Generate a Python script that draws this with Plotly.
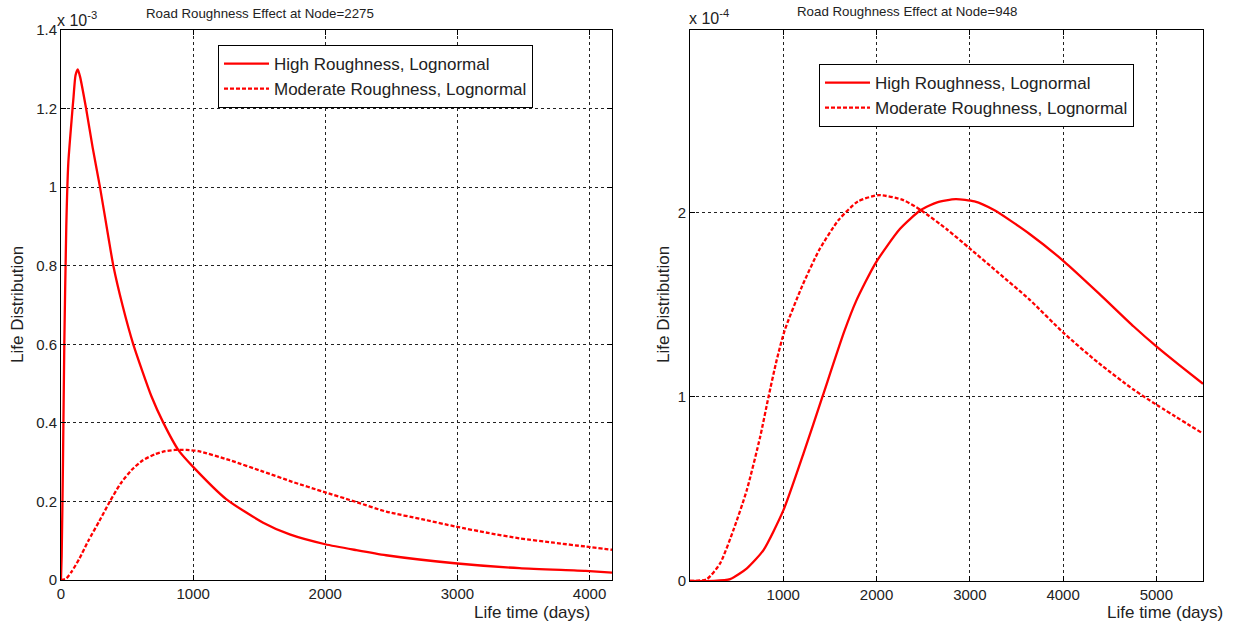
import plotly.graph_objects as go

# ---------------- data (left: node 2275, values in units of 1e-3) ----------------
left_high_x = [0, 5, 15, 25, 40, 55, 80, 95, 110, 127, 145, 190, 240, 295, 360, 396, 465,
               547, 685, 775, 890, 1000, 1250, 1530, 1731, 2000, 2235, 2460, 3000,
               3470, 3970, 4170]
left_high_y = [0, 0.06, 0.30, 0.60, 0.90, 1.06, 1.17, 1.23, 1.285, 1.30, 1.28, 1.20,
               1.10, 1.00, 0.87, 0.80, 0.70, 0.60, 0.467, 0.40, 0.33, 0.288, 0.206,
               0.146, 0.116, 0.091, 0.076, 0.063, 0.042, 0.030, 0.023, 0.019]

left_mod_x = [0, 40, 80, 140, 207, 290, 370, 450, 534, 620, 711, 790, 862, 950, 1040,
              1277, 1529, 1750, 1983, 2230, 2462, 2730, 2986, 3230, 3469, 3730, 3973, 4170]
left_mod_y = [0, 0.004, 0.021, 0.055, 0.10, 0.15, 0.20, 0.245, 0.28, 0.305, 0.32, 0.328,
              0.331, 0.331, 0.328, 0.305, 0.276, 0.25, 0.225, 0.199, 0.174, 0.155, 0.136,
              0.12, 0.106, 0.095, 0.085, 0.077]

# ---------------- data (right: node 948, values in units of 1e-4) ----------------
right_high_x = [0, 250, 430, 610, 788, 1003, 1218, 1420, 1651, 1782, 1988, 2250, 2474,
                2650, 2848, 3050, 3260, 3634, 4008, 4383, 4757, 5000, 5250, 5500]
right_high_y = [0, 0, 0.01, 0.069, 0.168, 0.386, 0.694, 1.0, 1.35, 1.52, 1.724, 1.91,
                2.013, 2.055, 2.072, 2.06, 2.013, 1.886, 1.735, 1.561, 1.381, 1.273,
                1.17, 1.07]

right_mod_x = [0, 180, 323, 466, 610, 753, 842, 930, 1015, 1202, 1389, 1595, 1801, 2025,
               2287, 2474, 2750, 2998, 3300, 3634, 4008, 4383, 4757, 5000, 5500]
right_mod_y = [0, 0.01, 0.096, 0.277, 0.495, 0.784, 1.0, 1.2, 1.36, 1.60, 1.80, 1.96,
               2.06, 2.094, 2.067, 2.013, 1.91, 1.805, 1.675, 1.53, 1.345, 1.182, 1.038,
               0.957, 0.80]

left_xticks = [0, 1000, 2000, 3000, 4000]
left_yticks = [0, 0.2, 0.4, 0.6, 0.8, 1.0, 1.2, 1.4]
right_xticks = [1000, 2000, 3000, 4000, 5000]
right_yticks = [0, 1, 2]

series_names = ["High Roughness, Lognormal", "Moderate Roughness, Lognormal"]
titles = ["Road Roughness Effect at Node=2275", "Road Roughness Effect at Node=948"]

W, H = 1233, 628
FONT = "Liberation Sans, Arial, sans-serif"
RED = "#ff0000"
TXT = "#222"


def px_x(p):
    return p / W


def px_y(p):
    return 1 - p / H


fig = go.Figure()
solid = dict(color=RED, width=2.3, shape="spline", smoothing=0.6)
dashed = dict(color=RED, width=2.3, dash="4px,2px", shape="spline", smoothing=0.6)
fig.add_trace(go.Scatter(x=left_high_x, y=left_high_y, mode="lines", name=series_names[0],
                         line=solid, xaxis="x", yaxis="y", legend="legend"))
fig.add_trace(go.Scatter(x=left_mod_x, y=left_mod_y, mode="lines", name=series_names[1],
                         line=dashed, xaxis="x", yaxis="y", legend="legend"))
fig.add_trace(go.Scatter(x=right_high_x, y=right_high_y, mode="lines", name=series_names[0],
                         line=solid, xaxis="x2", yaxis="y2", legend="legend2"))
fig.add_trace(go.Scatter(x=right_mod_x, y=right_mod_y, mode="lines", name=series_names[1],
                         line=dashed, xaxis="x2", yaxis="y2", legend="legend2"))

axis_common = dict(showline=True, linecolor="black", linewidth=1, mirror="ticks",
                   ticks="inside", ticklen=5, tickcolor="black",
                   showgrid=True, gridcolor="#222", gridwidth=1, griddash="3px,3px",
                   zeroline=False, tickfont=dict(family=FONT, size=15, color=TXT))

legend_common = dict(xanchor="left", yanchor="top", bgcolor="white", bordercolor="black",
                     borderwidth=1, font=dict(family=FONT, size=17, color=TXT),
                     tracegroupgap=0, itemwidth=45)

fig.update_layout(
    width=W, height=H,
    margin=dict(l=0, r=0, t=0, b=0, autoexpand=False),
    paper_bgcolor="white", plot_bgcolor="white",
    font=dict(family=FONT, size=14, color=TXT),
    xaxis=dict(domain=[px_x(61), px_x(612)], range=[0, 4170], tickvals=left_xticks,
               anchor="y", **axis_common),
    yaxis=dict(domain=[px_y(580), px_y(30)], range=[0, 1.4], tickvals=left_yticks,
               anchor="x", **axis_common),
    xaxis2=dict(domain=[px_x(690), px_x(1203)], range=[0, 5500], tickvals=right_xticks,
                anchor="y2", **axis_common),
    yaxis2=dict(domain=[px_y(581), px_y(30)], range=[0, 2.99], tickvals=right_yticks,
                anchor="x2", **axis_common),
    legend=dict(x=px_x(218), y=px_y(45), **legend_common),
    legend2=dict(x=px_x(819), y=px_y(64), **legend_common),
    showlegend=True,
)

ann = []
ann.append(dict(text=titles[0], x=px_x(260), y=px_y(13), xref="paper", yref="paper",
                showarrow=False, xanchor="center", yanchor="middle",
                font=dict(family=FONT, size=13.3, color=TXT)))
ann.append(dict(text=titles[1], x=px_x(907), y=px_y(12), xref="paper", yref="paper",
                showarrow=False, xanchor="center", yanchor="middle",
                font=dict(family=FONT, size=13.3, color=TXT)))
ann.append(dict(text="x 10<sup>-3</sup>", x=px_x(55), y=px_y(19), xref="paper", yref="paper",
                showarrow=False, xanchor="left", yanchor="middle",
                font=dict(family=FONT, size=16, color=TXT)))
ann.append(dict(text="x 10<sup>-4</sup>", x=px_x(687), y=px_y(17), xref="paper", yref="paper",
                showarrow=False, xanchor="left", yanchor="middle",
                font=dict(family=FONT, size=16, color=TXT)))
for xp in (18, 664):
    ann.append(dict(text="Life Distribution", x=px_x(xp), y=px_y(305), xref="paper", yref="paper",
                    showarrow=False, xanchor="center", yanchor="middle", textangle=-90,
                    font=dict(family=FONT, size=17, color=TXT)))
for xp in (532, 1165):
    ann.append(dict(text="Life time (days)", x=px_x(xp), y=px_y(612), xref="paper", yref="paper",
                    showarrow=False, xanchor="center", yanchor="middle",
                    font=dict(family=FONT, size=17, color=TXT)))
fig.update_layout(annotations=ann)

fig.write_html("out.html")
